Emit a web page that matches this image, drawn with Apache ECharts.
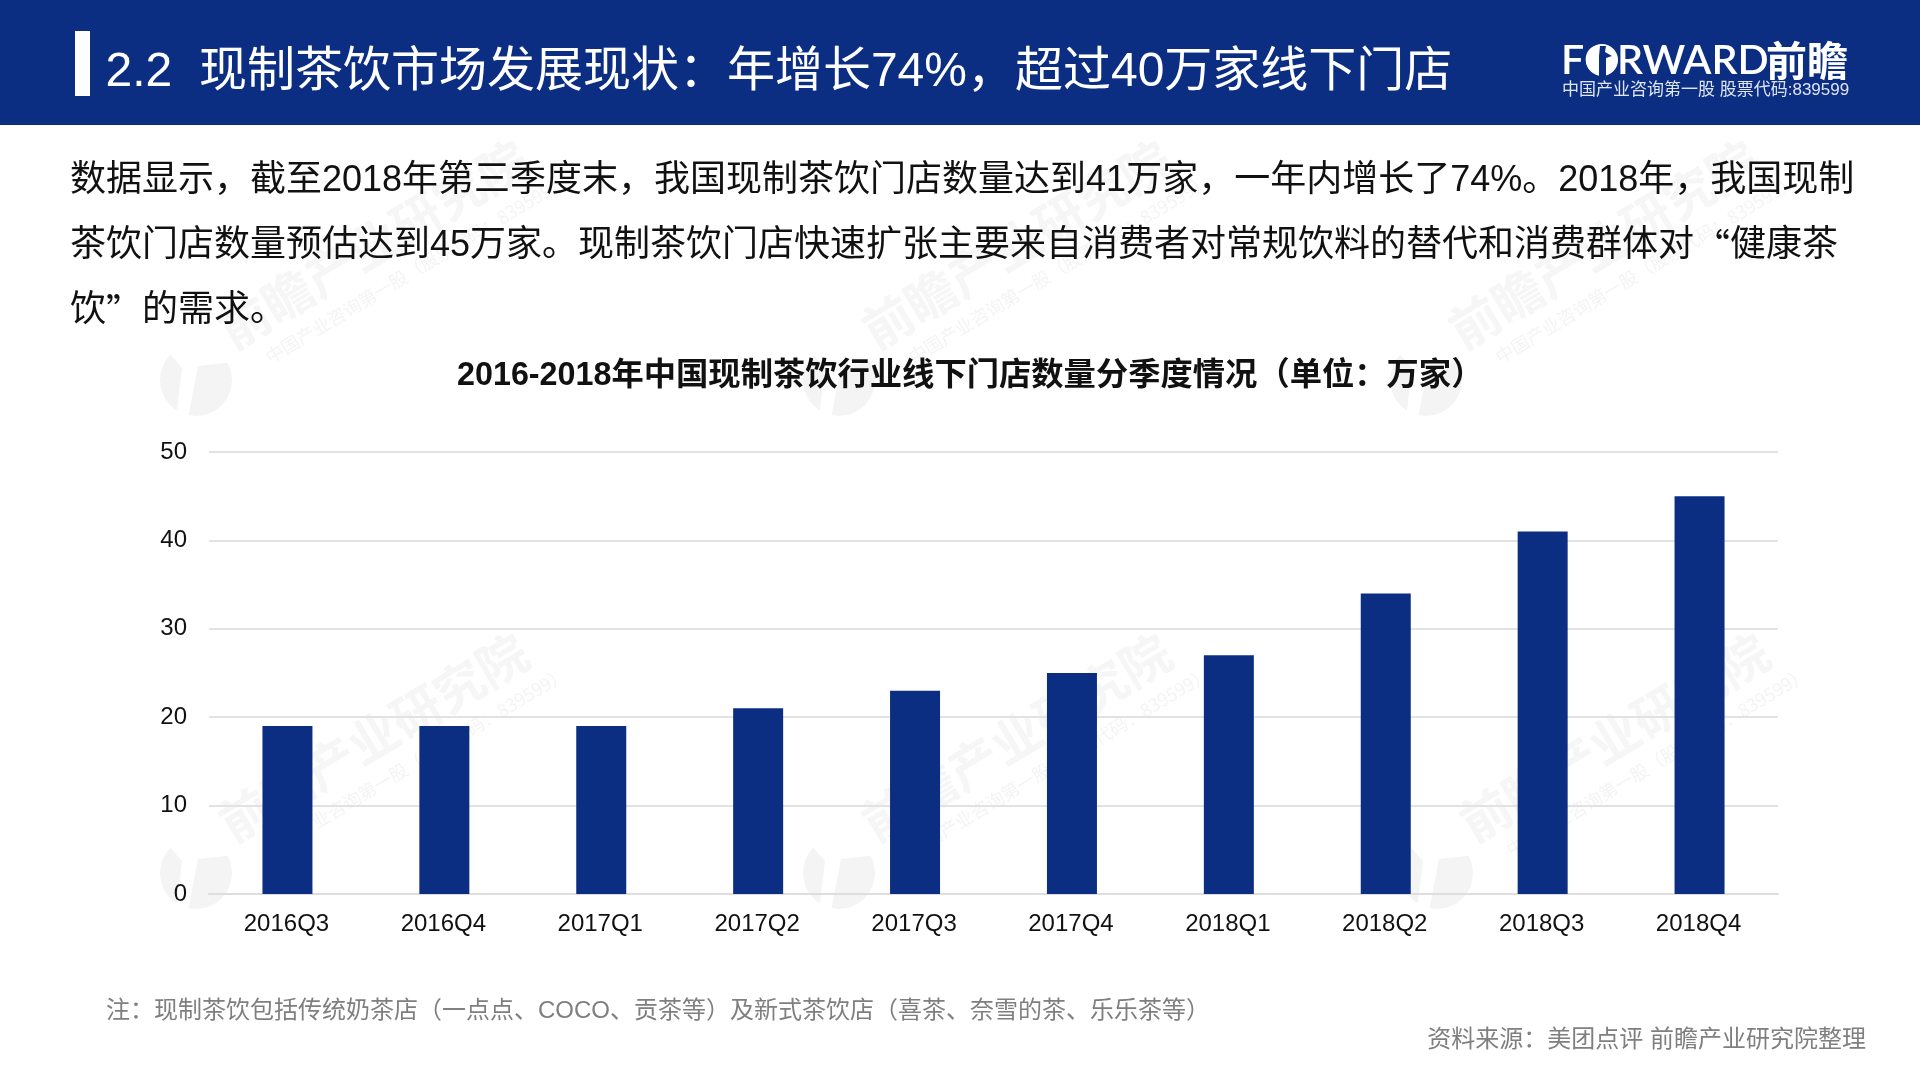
<!DOCTYPE html>
<html lang="zh-CN">
<head>
<meta charset="utf-8">
<title>现制茶饮门店数量</title>
<style>html,body{margin:0;padding:0;background:#fff}#c{width:1920px;height:1080px}</style>
<script src="https://cdn.jsdelivr.net/npm/echarts@6/dist/echarts.min.js"></script>
</head>
<body>
<div id="c"></div>
<script>
const categories = ['2016Q3','2016Q4','2017Q1','2017Q2','2017Q3','2017Q4','2018Q1','2018Q2','2018Q3','2018Q4'];
const storeCounts = [19,19,19,21,23,25,27,34,41,45];
const yTicks = {min:0,max:50,interval:10};
const headline = '2.2  现制茶饮市场发展现状：年增长74%，超过40万家线下门店';
const chartTitle = '2016-2018年中国现制茶饮行业线下门店数量分季度情况（单位：万家）';
const bodyLine1 = '数据显示，截至2018年第三季度末，我国现制茶饮门店数量达到41万家，一年内增长了74%。2018年，我国现制';
const bodyLine2 = '茶饮门店数量预估达到45万家。现制茶饮门店快速扩张主要来自消费者对常规饮料的替代和消费群体对{q|“}健康茶';
const bodyLine3 = '饮{q|”}的需求。';
const noteText = '注：现制茶饮包括传统奶茶店（一点点、COCO、贡茶等）及新式茶饮店（喜茶、奈雪的茶、乐乐茶等）';
const sourceText = '资料来源：美团点评 前瞻产业研究院整理';
const logoWord = 'FORWARD';
const logoCn = '前瞻';
const logoSub = '中国产业咨询第一股 股票代码:839599';
const wmMain = '前瞻产业研究院';
const wmSub = '中国产业咨询第一股（股票代码：839599）';
const wmAnchors = [[196,380],[839,380],[1426,380],[196,873],[839,873],[1437,873]];

const NAVY = '#0b2e83';
const FF = '"Liberation Sans","Noto Sans CJK SC",sans-serif';
const CJK = '"Noto Sans CJK SC",sans-serif';
const WM = '#f4f4f4';
const ang = 31 * Math.PI / 180;

function wmGroup(a){
  return {
    type:'group', x:a[0], y:a[1], rotation:ang, z:-5, silent:true,
    children:[
      {type:'group', rotation:-ang, children:[
        {type:'circle', z:-5, shape:{cx:0,cy:0,r:36}, style:{fill:WM}},
        {type:'polygon', z:-4, shape:{points:[[-30,-30],[-14,-12],[-20,38],[-8,38],[2,-14],[38,-18],[34,-40],[-30,-40]]}, style:{fill:'#fff'}}
      ]},
      {type:'text', z:-4, style:{text:wmMain,x:222,y:-25,font:'bold 50px '+CJK,fill:'#f6f6f6',align:'center',verticalAlign:'middle'}},
      {type:'text', z:-4, style:{text:wmSub,x:246,y:18,font:'18px '+CJK,fill:WM,align:'center',verticalAlign:'middle'}}
    ]
  };
}
function line(text,x,y,size,fill,align){
  return {type:'text',z:60,silent:true,style:{text,x,y,font:size+'px '+FF,fill,align:align||'left',verticalAlign:'middle',rich:{q:{fontFamily:'Noto Sans CJK SC',fontSize:size,fill}}}};
}

const chart = echarts.init(document.getElementById('c'));
chart.setOption({
  animation:false,
  backgroundColor:'#fff',
  title:{
    text:chartTitle, left:452, top:355,
    textStyle:{fontFamily:FF,fontSize:32.3,fontWeight:'bold',color:'#111'}
  },
  grid:{left:209,right:142,top:452,bottom:186,containLabel:false},
  xAxis:{
    type:'category', data:categories,
    axisLine:{lineStyle:{color:'#dedede',width:2}}, axisTick:{show:false},
    axisLabel:{color:'#111',fontSize:24,fontFamily:FF,margin:18,interval:0,padding:[0,2,0,0]}
  },
  yAxis:{
    type:'value', min:yTicks.min, max:yTicks.max, interval:yTicks.interval,
    axisLine:{show:false}, axisTick:{show:false},
    axisLabel:{color:'#111',fontSize:24,fontFamily:FF,margin:22,padding:[4,0,0,0]},
    splitLine:{lineStyle:{color:'#e2e2e2',width:2}}
  },
  series:[{type:'bar',data:storeCounts,barWidth:50,itemStyle:{color:NAVY},z:3}],
  graphic:[
    ...wmAnchors.map(wmGroup),
    {type:'rect',z:50,silent:true,shape:{x:0,y:0,width:1920,height:125},style:{fill:NAVY}},
    {type:'rect',z:60,silent:true,shape:{x:75,y:31,width:15,height:65},style:{fill:'#fff'}},
    line(headline,105.5,73,48,'#fff'),
    line(bodyLine1,70,181.5,36,'#111'),
    line(bodyLine2,70,246.5,36,'#111'),
    line(bodyLine3,70,311.5,36,'#111'),
    line(noteText,106,1011,24,'#7f7f7f'),
    line(sourceText,1866,1040,24,'#7f7f7f','right'),
    {type:'text',z:60,silent:true,style:{text:logoWord,x:1561,y:61,font:'600 41px Lato,'+FF,fill:'#fff',verticalAlign:'middle'}},
    {type:'circle',z:61,silent:true,shape:{cx:1602,cy:60,r:16},style:{fill:'#fff'}},
    {type:'polygon',z:62,silent:true,shape:{points:[[1600,46],[1606,46],[1605,52],[1612,56],[1606,58],[1606,76],[1599,76],[1599,56]]},style:{fill:NAVY}},
    {type:'text',z:60,silent:true,style:{text:logoCn,x:1766,y:60,font:'bold 41px '+CJK,fill:'#fff',verticalAlign:'middle'}},
    {type:'text',z:60,silent:true,style:{text:logoSub,x:1562,y:90.5,font:'17px '+FF,fill:'#dfe5f2',verticalAlign:'middle'}}
  ]
});
</script>
</body>
</html>
